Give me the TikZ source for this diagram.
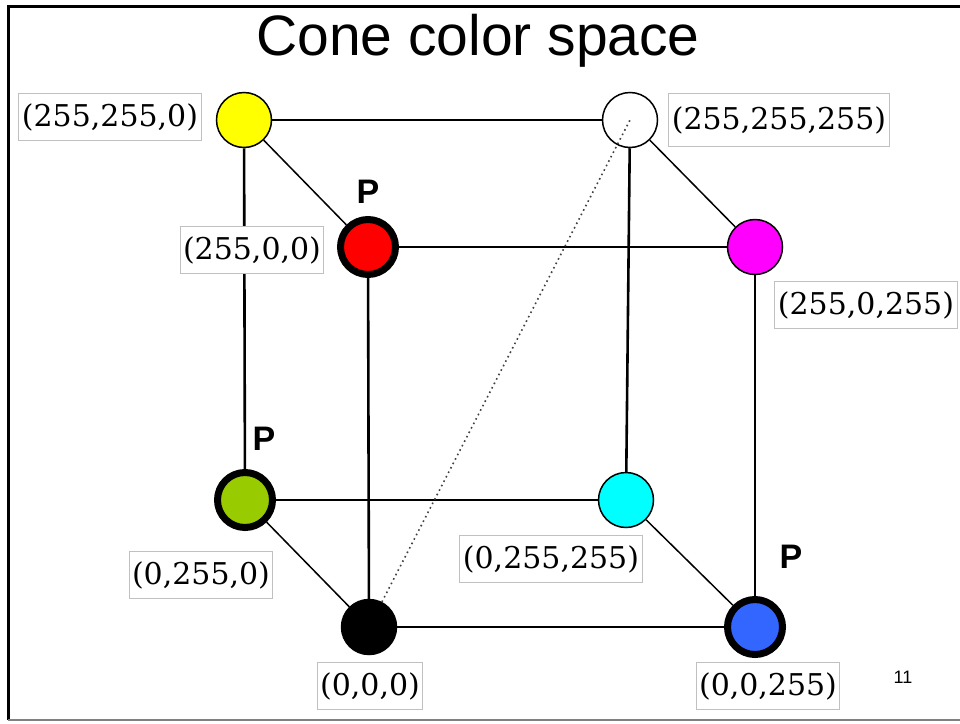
\documentclass[tikz,border=0pt]{standalone}
\usepackage{fontspec}
\setmainfont{Liberation Sans}
\newfontfamily\tuplefont{DejaVu Serif}
\definecolor{rgbyellow}{HTML}{FFFF00}
\definecolor{rgbred}{HTML}{FF0000}
\definecolor{rgbmagenta}{HTML}{FF00FF}
\definecolor{rgbgreen}{HTML}{99CC00}
\definecolor{rgbcyan}{HTML}{00FFFF}
\definecolor{rgbblue}{HTML}{3366FF}
\definecolor{boxgray}{HTML}{C0C0C0}
\tikzset{
  vertex/.style={circle, draw=black, line width=1.5pt, minimum size=55pt, inner sep=0pt},
  primary/.style={vertex, line width=7pt},
  tuple/.style={draw=boxgray, line width=1pt, fill=white, inner xsep=3pt, inner ysep=0pt,
    minimum height=47pt, font=\tuplefont\fontsize{30}{30}\selectfont},
  edge/.style={line width=2.6pt},
  diag/.style={line width=1.5pt},
  plabel/.style={anchor=base, font=\bfseries\fontsize{34}{34}\selectfont},
}
\begin{document}
\begin{tikzpicture}[x=1pt, y=-1pt]
  \useasboundingbox (0,0) rectangle (960,723);
  % slide frame
  \draw[line width=3pt] (8,720) -- (8,6) -- (960,6);
  \draw[gray, line width=1.5pt] (8,720) -- (960,720);
  \node[anchor=base] (title) at (478,55) {\fontsize{57}{57}\selectfont Cone color space};
  % corners of the cube
  \node[vertex, fill=rgbyellow] (yellow) at (244,120) {};
  \node[vertex, fill=white] (white) at (630,120) {};
  \node[primary, fill=rgbred] (red) at (368,247) {};
  \node[vertex, fill=rgbmagenta] (magenta) at (755,247) {};
  \node[primary, fill=rgbgreen] (green) at (245,500) {};
  \node[vertex, fill=rgbcyan] (cyan) at (626,500) {};
  \node[vertex, fill=black] (black) at (369,627) {};
  \node[primary, fill=rgbblue] (blue) at (755,627) {};
  % edges
  \draw[edge] (yellow) -- (white);
  \draw[edge] (yellow) -- (green);
  \draw[edge] (white) -- (cyan);
  \draw[edge] (red) -- (magenta);
  \draw[edge] (red) -- (black);
  \draw[edge] (magenta) -- (blue);
  \draw[edge] (green) -- (cyan);
  \draw[edge] (black) -- (blue);
  \draw[diag] (yellow) -- (red);
  \draw[diag] (white) -- (magenta);
  \draw[diag] (green) -- (black);
  \draw[diag] (cyan) -- (blue);
  \draw[line width=1.6pt, dash pattern=on 1.6pt off 3.4pt, black!75] (black) -- (white.center);
  % coordinates
  \node[tuple] (lyellow) at (110,117) {(255,255,0)};
  \node[tuple, minimum height=53pt] (lwhite) at (779,120) {(255,255,255)};
  \node[tuple] (lred) at (252,250) {(255,0,0)};
  \node[tuple] (lmagenta) at (866,305) {(255,0,255)};
  \node[tuple] (lgreen) at (201,575) {(0,255,0)};
  \node[tuple] (lcyan) at (551,559) {(0,255,255)};
  \node[tuple] (lblack) at (370,686) {(0,0,0)};
  \node[tuple] (lblue) at (768,686) {(0,0,255)};
  % primaries
  \node[plabel] (pred) at (368,203) {P};
  \node[plabel] (pgreen) at (264,450) {P};
  \node[plabel] (pblue) at (791,568) {P};
  \node[anchor=base, font=\fontsize{18}{18}\selectfont] (page) at (903,683) {11};
\end{tikzpicture}
\end{document}
